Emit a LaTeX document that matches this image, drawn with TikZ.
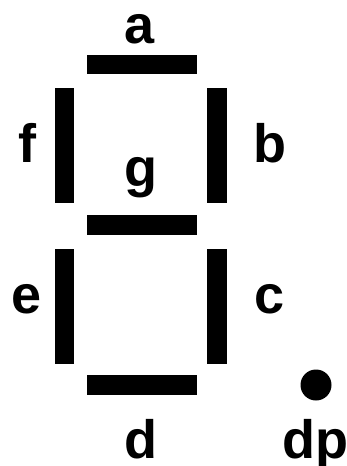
\documentclass[tikz,border=0pt]{standalone}
\usepackage{fontspec}
\setmainfont{Liberation Sans}
\usetikzlibrary{positioning}

\begin{document}
\begin{tikzpicture}[
    x=1pt, y=-1pt,
    hseg/.style={fill=black, inner sep=0, minimum width=110pt, minimum height=19.5pt},
    vseg/.style={fill=black, inner sep=0, minimum width=19.5pt, minimum height=115pt},
    dot/.style={circle, fill=black, inner sep=0, minimum size=31pt},
    lbl/.style={inner sep=0, anchor=base, font=\fontsize{54}{60}\selectfont\bfseries}
]
\useasboundingbox (0,0) rectangle (346,466);
% segments
\node[hseg] (segA) at (142,64.5) {};
\node[vseg] (segB) at (217,145.5) {};
\node[vseg] (segC) at (217,306) {};
\node[hseg] (segD) at (142,385) {};
\node[vseg] (segE) at (64.5,306) {};
\node[vseg] (segF) at (64.5,145.5) {};
\node[hseg] (segG) at (142,225) {};
\node[dot] (segDP) at (316,385) {};
% labels
\node[lbl] (labA) at (140,43) {a};
\node[lbl] (labB) at (270,162) {b};
\node[lbl] (labC) at (270,313) {c};
\node[lbl] (labD) at (141,458) {d};
\node[lbl] (labE) at (27,313) {e};
\node[lbl] (labF) at (27,162) {f};
\node[lbl] (labG) at (141,186) {g};
\node[lbl] (labDP) at (315,458) {dp};
\end{tikzpicture}
\end{document}
